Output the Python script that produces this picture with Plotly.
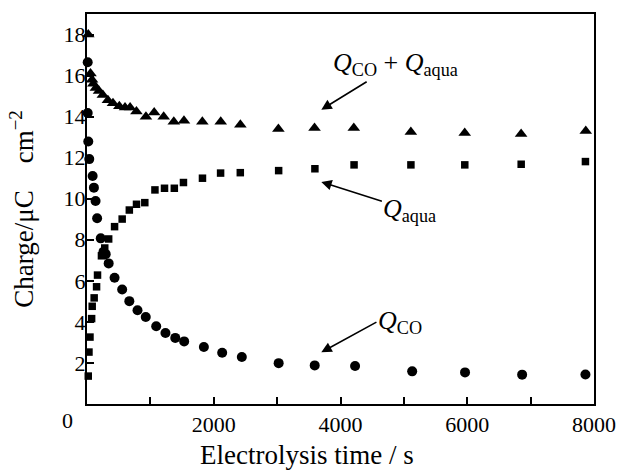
import plotly.graph_objects as go

# Q_CO + Q_aqua (triangles)
t_total = [20, 55, 80, 100, 140, 190, 250, 330, 410, 510, 600, 680, 780, 930, 1060,
           1210, 1370, 1530, 1820, 2110, 2420, 3020, 3590, 4210, 5110, 5960, 6850, 7870]
q_total = [18.0, 16.1, 15.8, 15.6, 15.4, 15.25, 15.05, 14.8, 14.65, 14.5, 14.45, 14.45,
           14.25, 14.0, 14.2, 14.0, 13.75, 13.8, 13.75, 13.75, 13.6, 13.4, 13.45, 13.45,
           13.25, 13.2, 13.15, 13.3]

# Q_aqua (squares)
t_aqua = [20, 31, 47, 73, 82, 113, 151, 166, 228, 280, 342, 435, 555, 668, 781, 912,
          1072, 1223, 1378, 1522, 1822, 2108, 2419, 3024, 3596, 4214, 5111, 5961, 6851, 7865]
q_aqua = [1.36, 2.53, 3.26, 4.16, 4.76, 5.17, 5.71, 6.28, 7.22, 7.6, 8.04, 8.64, 9.01,
          9.45, 9.73, 9.81, 10.43, 10.51, 10.51, 10.79, 11.0, 11.25, 11.27, 11.37, 11.46,
          11.65, 11.65, 11.65, 11.68, 11.81]

# Q_CO (circles)
t_co = [11, 11, 20, 36, 89, 109, 135, 160, 217, 260, 295, 342, 435, 555, 668, 797, 927,
        1092, 1238, 1393, 1533, 1844, 2133, 2443, 3024, 3593, 4230, 5131, 5965, 6866, 7865]
q_co = [16.65, 14.18, 12.79, 11.93, 11.11, 10.54, 9.89, 9.05, 8.07, 7.42, 7.3, 6.85,
        6.15, 5.58, 5.01, 4.57, 4.24, 3.79, 3.46, 3.22, 3.05, 2.78, 2.5, 2.29, 1.99,
        1.88, 1.85, 1.59, 1.54, 1.43, 1.44]

x_tickvals = [2000, 4000, 6000, 8000]
y_tickvals = [2, 4, 6, 8, 10, 12, 14, 16, 18]

FONT = "Liberation Serif"

fig = go.Figure()
fig.add_trace(go.Scatter(x=t_total, y=q_total, mode="markers",
                         marker=dict(symbol="triangle-up", size=11, color="black"),
                         cliponaxis=False))
fig.add_trace(go.Scatter(x=t_aqua, y=q_aqua, mode="markers",
                         marker=dict(symbol="square", size=7.5, color="black"),
                         cliponaxis=False))
fig.add_trace(go.Scatter(x=t_co, y=q_co, mode="markers",
                         marker=dict(symbol="circle", size=10, color="black"),
                         cliponaxis=False))

lab = dict(showarrow=True, arrowhead=2, arrowsize=1.3, arrowwidth=1.6,
           arrowcolor="black", standoff=0, axref="x", ayref="y",
           font=dict(family=FONT, size=26, color="black"))
fig.add_annotation(x=3697, y=14.34, ax=4862, ay=16.55,
                   text="<i>Q</i><sub>CO</sub> + <i>Q</i><sub>aqua</sub>", **lab)
fig.add_annotation(x=3697, y=10.82, ax=5095, ay=9.45,
                   text="<i>Q</i><sub>aqua</sub>", **lab)
fig.add_annotation(x=3697, y=2.52, ax=4567, ay=3.99, xanchor="left", yanchor="middle",
                   text="<i>Q</i><sub>CO</sub>", **lab)
fig.add_annotation(xref="paper", yref="paper", x=-20/515, y=-16/390, text="0",
                   xanchor="center", yanchor="middle",
                   showarrow=False, font=dict(family=FONT, size=22, color="black"))
fig.add_annotation(xref="paper", yref="paper", x=(310 - 87)/515, y=-(455 - 404)/390,
                   text="Electrolysis time / s", xanchor="center", yanchor="middle",
                   showarrow=False, font=dict(family=FONT, size=27, color="black"))

fig.update_layout(
    width=628, height=470,
    margin=dict(l=87, r=26, t=14, b=66),
    paper_bgcolor="white", plot_bgcolor="white",
    showlegend=False,
    font=dict(family=FONT, size=22, color="black"),
    xaxis=dict(range=[0, 8000], tickvals=x_tickvals,
               ticks="inside", ticklen=7, tickwidth=1.5, tickcolor="black",
               minor=dict(tickvals=[1000, 3000, 5000, 7000], ticks="inside",
                          ticklen=7, tickwidth=1.5, tickcolor="black"),
               showline=True, linecolor="black", linewidth=2, mirror=True,
               showgrid=False, zeroline=False),
    yaxis=dict(range=[0, 19], tickvals=y_tickvals, ticklabelstandoff=-5,
               ticks="inside", ticklen=7, tickwidth=1.5, tickcolor="black",
               showline=True, linecolor="black", linewidth=2, mirror=True,
               showgrid=False, zeroline=False,
               title=dict(text="Charge/μC\u2002\u2002cm<sup>−2</sup>", font=dict(size=27), standoff=22)),
)

fig.write_html("out.html")
